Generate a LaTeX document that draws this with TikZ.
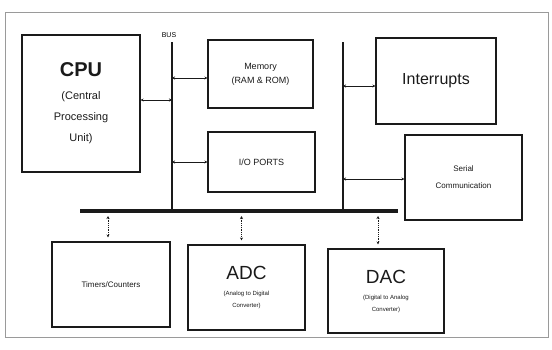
\documentclass[tikz,border=0pt]{standalone}
\usepackage{fontspec}
\setmainfont{Liberation Sans}
\usepackage{xcolor}
\usetikzlibrary{arrows.meta,positioning,calc}
\definecolor{Ink}{HTML}{1A1A1A}
\definecolor{Frame}{HTML}{9A9A9A}
\newcommand{\bigtxt}{\fontsize{19}{22}\selectfont}
\newcommand{\subtxt}{\fontsize{6}{8}\selectfont}
\newcommand{\cputxt}{\fontsize{11}{13}\selectfont}

\begin{document}
\begin{tikzpicture}[x=1pt,y=-1pt,
    box/.style={draw=Ink,line width=1.1pt,align=center,text=Ink,inner sep=2pt},
    bus/.style={draw=Ink,line width=2.6pt},
    link/.style={{Stealth[length=3pt,width=3pt]}-{Stealth[length=3pt,width=3pt]},draw=Ink,line width=0.8pt},
    tap/.style={link,densely dotted,shorten <=5pt,shorten >=4pt}]
  \useasboundingbox (0,0) rectangle (552,349);
  \draw[Frame,line width=0.8pt] (5,12) rectangle (548,337);
  % blocks
  \node[box,minimum width=118pt,minimum height=137pt] (CPU) at (81,103.5)
    {\fontsize{20}{24}\selectfont\bfseries CPU\\[11pt]
     \cputxt (Central\\[9pt]\cputxt Processing\\[9pt]\cputxt Unit)};
  \node[box,minimum width=105pt,minimum height=68pt,font=\fontsize{9}{12}\selectfont] (MEM) at (260.5,74)
    {Memory\\[2pt](RAM \& ROM)};
  \node[box,minimum width=107pt,minimum height=60pt,font=\fontsize{9}{12}\selectfont] (IO) at (261.5,162)
    {I/O PORTS};
  \node[box,minimum width=120pt,minimum height=86pt,font=\fontsize{16}{18}\selectfont] (INT) at (436,81)
    {Interrupts};
  \node[box,minimum width=117pt,minimum height=85pt,font=\fontsize{8}{11}\selectfont] (SER) at (463.5,177.5)
    {Serial\\[6pt]Communication};
  \node[box,minimum width=118pt,minimum height=85pt,font=\fontsize{8}{10}\selectfont] (TMR) at (111,284.5)
    {Timers/Counters};
  \node[box,minimum width=117pt,minimum height=85pt] (ADC) at (246.5,287.5)
    {\bigtxt ADC\\[4pt]\subtxt (Analog to Digital\\\subtxt Converter)};
  \node[box,minimum width=116pt,minimum height=84pt] (DAC) at (386,291)
    {\bigtxt DAC\\[4pt]\subtxt (Digital to Analog\\\subtxt Converter)};
  % bus lines
  \coordinate (B1t) at (172,42);
  \coordinate (B2t) at (343,42);
  \coordinate (HBl) at (80,211);
  \coordinate (HBr) at (398,211);
  \node[font=\fontsize{7}{8}\selectfont,above=1pt of B1t,xshift=-3pt] (BUS) {BUS};
  \draw[bus] (B1t) -- (B1t |- HBl);
  \draw[bus] (B2t) -- (B2t |- HBl);
  \draw[bus,line width=3.2pt] (HBl) -- (HBr);
  % links to the bus
  \draw[link] (CPU.east |- 0,100) -- (B1t |- 0,100);
  \draw[link] (B1t |- 0,78) -- (MEM.west |- 0,78);
  \draw[link] (B1t |- IO.west) -- (IO.west);
  \draw[link] (B2t |- 0,86) -- (INT.west |- 0,86);
  \draw[link] (B2t |- 0,179) -- (SER.west |- 0,179);
  \draw[tap] ([xshift=-3pt]TMR.north |- HBl) -- ([xshift=-3pt]TMR.north);
  \draw[tap] ([xshift=-5pt]ADC.north |- HBl) -- ([xshift=-5pt]ADC.north);
  \draw[tap] ([xshift=-8pt]DAC.north |- HBl) -- ([xshift=-8pt]DAC.north);
\end{tikzpicture}
\end{document}
